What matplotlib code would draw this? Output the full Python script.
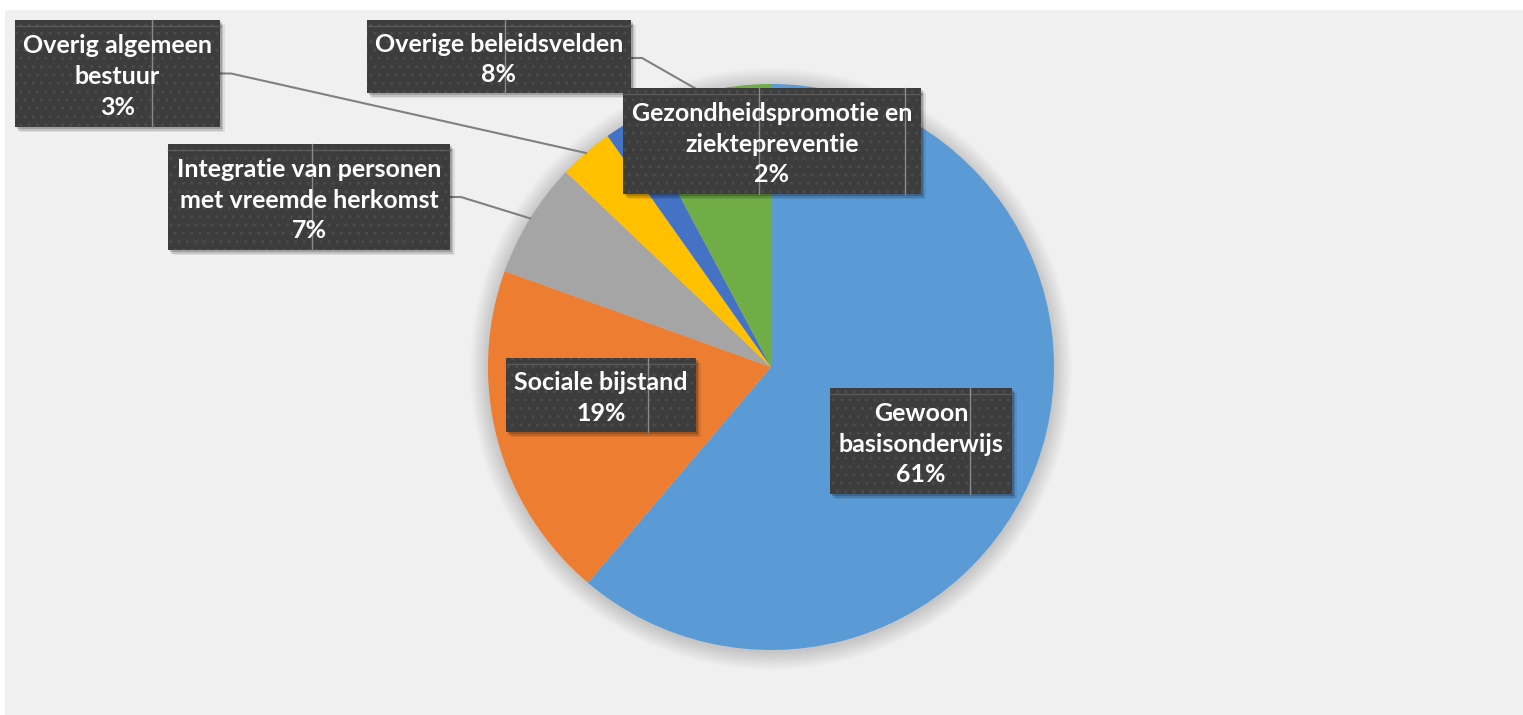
import numpy as np
import matplotlib
matplotlib.use("Agg")
import matplotlib.pyplot as plt
from matplotlib.patches import Rectangle, Circle

# data (shares, labels show them rounded)
labels = ["Gewoon\nbasisonderwijs", "Sociale bijstand",
          "Integratie van personen\nmet vreemde herkomst",
          "Overig algemeen\nbestuur",
          "Gezondheidspromotie en\nziektepreventie",
          "Overige beleidsvelden"]
shares = [61.2, 19.3, 6.6, 3.1, 2.0, 7.8]
colors = ["#5B9BD5", "#ED7D31", "#A5A5A5", "#FFC000", "#4472C4", "#70AD47"]

W, H = 1523, 715
BG = "#F0F0F0"
BOX = "#3D3D3D"
LEADER = "#808080"

# label boxes in pixels (left, top, right, bottom), artefact line xs, leader?
boxes = [
    ((830, 388, 1012, 494), [970], False),
    ((506, 358, 696, 432), [648], False),
    ((168, 144, 450, 250), [312], True),
    ((15, 20, 220, 127), [152], True),
    ((623, 88, 921, 194), [759, 905], False),
    ((367, 20, 631, 93), [505], True),
]

plt.rcParams["font.family"] = ["Lato", "DejaVu Sans"]

fig = plt.figure(figsize=(W / 100, H / 100), dpi=100)
fig.patch.set_facecolor("white")
ax = fig.add_axes([0, 0, 1, 1])

cx, cy, r = 771, H - 367, 283

wedges, _ = ax.pie(shares, colors=colors, startangle=90, counterclock=False,
                   center=(cx, cy), radius=r, wedgeprops=dict(linewidth=0, zorder=3))
ax.set_xlim(0, W)
ax.set_ylim(0, H)
ax.set_aspect("equal")
ax.axis("off")

# background panel
ax.add_patch(Rectangle((5, 0), W - 5, H - 10, facecolor=BG, edgecolor="none", zorder=0))

# soft shadow round the pie
for i in range(14):
    ax.add_patch(Circle((cx, cy - 2), r + 1 + i * 1.3, facecolor="black",
                        edgecolor="none", alpha=0.012, zorder=1))


def py(y):
    return H - y


for k, ((l, t, rr, b), vxs, lead) in enumerate(boxes):
    w, h = rr - l, b - t
    # shadow
    for s, a in [(5, 0.08), (3.5, 0.12), (2, 0.18)]:
        ax.add_patch(Rectangle((l + s, py(b) - s), w, h, facecolor="black",
                               edgecolor="none", alpha=a, zorder=5))
    ax.add_patch(Rectangle((l, py(b)), w, h, facecolor=BOX, edgecolor="none", zorder=6))
    ax.add_patch(Rectangle((l, py(b)), w, h, facecolor="none", edgecolor="#4C4C4C",
                           hatch="..", linewidth=0, zorder=6.5))
    ax.plot([l, rr], [py(t + 6), py(t + 6)], color="#5A5A5A", lw=1, zorder=7)
    for vx in vxs:
        ax.plot([vx, vx], [py(t), py(b)], color="#8A8A8A", lw=1, zorder=7)
    ax.text((l + rr) / 2, py((t + b) / 2 + 3), f"{labels[k]}\n{round(shares[k]):.0f}%",
            ha="center", va="center", multialignment="center", color="white",
            fontsize=18, fontweight="bold", linespacing=1.4, zorder=8)
    if lead:
        wd = wedges[k]
        ang = np.deg2rad((wd.theta1 + wd.theta2) / 2)
        ex, ey = cx + r * np.cos(ang), cy + r * np.sin(ang)
        sy = py((t + b) / 2)
        if k == 5:
            sy = py(t + 38)
        ax.plot([rr, rr + 11, ex], [sy, sy, ey], color=LEADER, lw=1.5, zorder=4)

fig.savefig("out.png", dpi=100, facecolor=fig.get_facecolor())
